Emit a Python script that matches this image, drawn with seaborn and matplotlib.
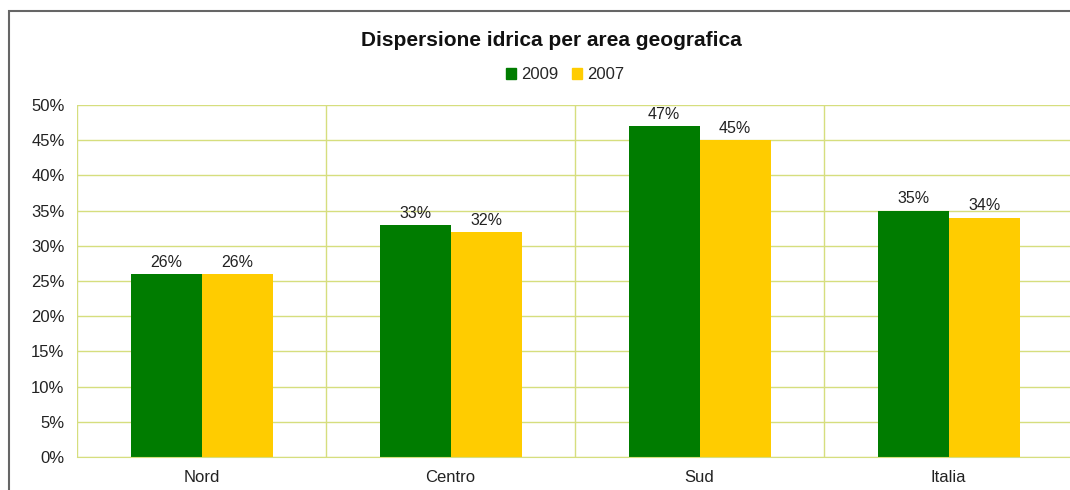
import pandas as pd
import seaborn as sns
import matplotlib.pyplot as plt
from matplotlib.patches import Rectangle

# Chart data
aree = ['Nord', 'Centro', 'Sud', 'Italia']
anni = ['2009', '2007']
valori_2009 = [26, 33, 47, 35]
valori_2007 = [26, 32, 45, 34]

df = pd.DataFrame({
    'area': aree * 2,
    'anno': ['2009'] * 4 + ['2007'] * 4,
    'valore': valori_2009 + valori_2007,
})

sns.set_style('white')
plt.rcParams['font.family'] = ['Liberation Sans', 'DejaVu Sans']

fig = plt.figure(figsize=(10.7, 4.9), dpi=100)
ax = fig.add_axes([0.072, 0.0673, 0.931, 0.7184])

colori = {'2009': '#007c00', '2007': '#ffcc00'}
sns.barplot(data=df, x='area', y='valore', hue='anno', hue_order=anni,
            palette=colori, width=0.57, saturation=1, linewidth=0, ax=ax, legend=False)

for c in ax.containers:
    ax.bar_label(c, labels=[f'{v:.0f}%' for v in c.datavalues], padding=3, fontsize=11.5, color='#222222')

ax.set_ylim(0, 50)
ax.set_xlim(-0.5, 3.5)
ax.set_yticks(range(0, 51, 5))
ax.set_yticklabels([f'{v}%' for v in range(0, 51, 5)], fontsize=12, color='#222222')
ax.set_xticks(range(4))
ax.set_xticklabels(aree, fontsize=12, color='#222222')
ax.set_xlabel('')
ax.set_ylabel('')

grid_col = '#d6de7e'
ax.set_axisbelow(True)
ax.grid(axis='y', color=grid_col, linewidth=1)
for x in [-0.5, 0.5, 1.5, 2.5, 3.5]:
    ax.axvline(x, color=grid_col, linewidth=1, zorder=0)
for s in ax.spines.values():
    s.set_visible(False)
ax.spines['bottom'].set_visible(True)
ax.spines['bottom'].set_color(grid_col)
ax.tick_params(axis='y', length=5, color=grid_col, pad=4)
ax.tick_params(axis='x', length=0, pad=9)

fig.text(0.515, 0.918, 'Dispersione idrica per area geografica', ha='center', va='center',
         fontsize=15, fontweight='bold', color='#111111')

# legend built by hand in figure coords
handles = [plt.Rectangle((0, 0), 1, 1, color=colori[a]) for a in anni]
fig.legend(handles, anni, loc='center', bbox_to_anchor=(0.528, 0.847), ncol=2, frameon=False,
           fontsize=12, handlelength=0.6, handleheight=0.6, handletextpad=0.3, columnspacing=0.8)

fig.patches.append(Rectangle((9 / 1070, -0.1), 1.2, 1 - 11 / 490 + 0.1, transform=fig.transFigure,
                             fill=False, edgecolor='#666666', linewidth=1.5))

fig.savefig('out.png', dpi=100)
